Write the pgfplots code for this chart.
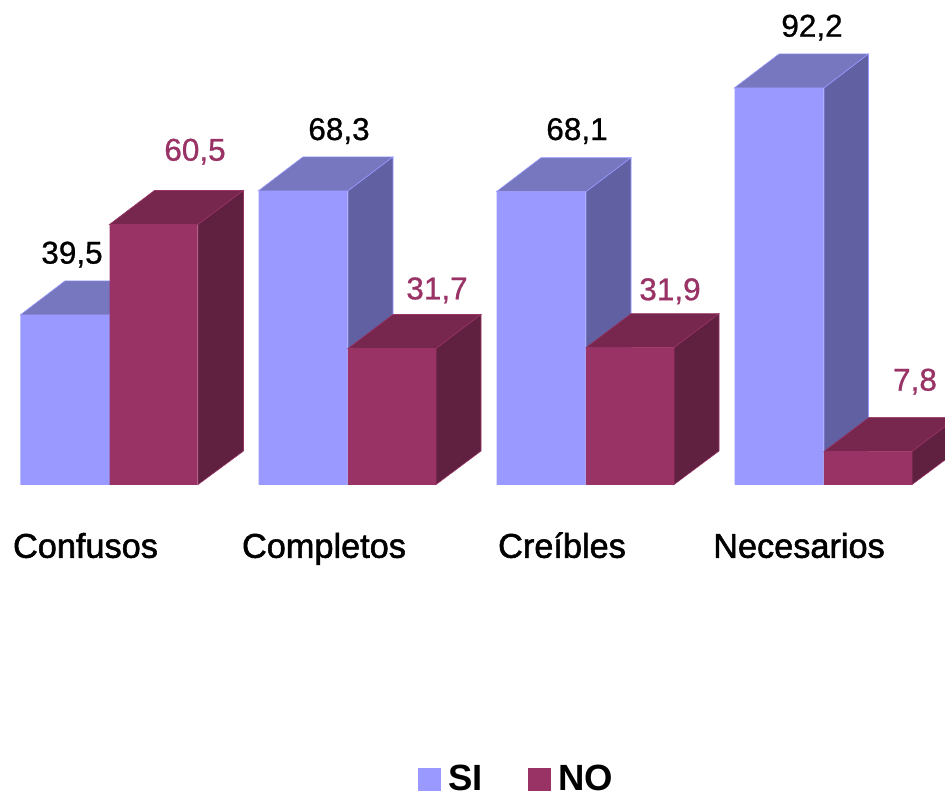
\documentclass[border=0pt]{standalone}
\usepackage{pgfplots}
\pgfplotsset{compat=1.18}
\usepackage{fontspec}
\setmainfont{Liberation Sans}
\newfontfamily\catfont[FakeBold=1.6]{Liberation Sans}
\newfontfamily\valfont[FakeBold=0.8]{Liberation Sans}
\definecolor{siF}{HTML}{9999FF}
\definecolor{siT}{HTML}{7777BF}
\definecolor{siS}{HTML}{6060A3}
\definecolor{noF}{HTML}{993366}
\definecolor{noT}{HTML}{77264D}
\definecolor{noS}{HTML}{60203F}
\newcommand{\val}[4]{\node[text=#4,font=\valfont\fontsize{31.5}{31.5}\selectfont] at (axis cs:#1,#2) {#3};}
\newcommand{\cat}[2]{\node[anchor=base,font=\catfont\fontsize{34.3}{34.3}\selectfont] at (axis cs:#1,-16.9) {#2};}
\begin{document}
\begin{tikzpicture}
\useasboundingbox (0,0) rectangle (945pt,795pt);
\begin{axis}[
  at={(0,0)}, anchor=south west,
  scale only axis, width=945pt, height=795pt,
  xmin=0, xmax=945, ymin=-71.99, ymax=112.63,
  hide axis,
  legend columns=2,
  legend style={at={(axis cs:418,-71.9)},anchor=south west,draw=none,fill=none,
    font=\bfseries\fontsize{36.5}{36.5}\selectfont,
    inner sep=0pt,
    /tikz/every even column/.append style={column sep=43pt}},
  legend cell align=left,
  every axis plot/.append style={forget plot},
]
% SI: top and side faces
\addplot[fill=siT,draw=siF,line width=0.6pt] coordinates {(20.3,39.5)(65,47.4)(154.5,47.4)(109.5,39.5)} --cycle;
\addplot[fill=siT,draw=siF,line width=0.6pt] coordinates {(258.3,68.3)(303,76.2)(393,76.2)(348,68.3)} --cycle;
\addplot[fill=siT,draw=siF,line width=0.6pt] coordinates {(496.3,68.1)(541,76.0)(631,76.0)(586,68.1)} --cycle;
\addplot[fill=siT,draw=siF,line width=0.6pt] coordinates {(734.3,92.2)(779,100.1)(868.5,100.1)(824,92.2)} --cycle;
\addplot[fill=siS,draw=siF,line width=0.6pt] coordinates {(109.5,0.1)(154.5,7.9)(154.5,47.4)(109.5,39.5)} --cycle;
\addplot[fill=siS,draw=siF,line width=0.6pt] coordinates {(348,0.1)(393,7.9)(393,76.2)(348,68.3)} --cycle;
\addplot[fill=siS,draw=siF,line width=0.6pt] coordinates {(586,0.1)(631,7.9)(631,76.0)(586,68.1)} --cycle;
\addplot[fill=siS,draw=siF,line width=0.6pt] coordinates {(824,0.1)(868.5,7.9)(868.5,100.1)(824,92.2)} --cycle;
% SI: fronts
\addplot[ybar,bar width=89.2pt,bar shift=0pt,fill=siF,draw=none] coordinates {(64.9,39.5)(303.1,68.3)(541.1,68.1)(779.1,92.2)};
% NO: top and side faces
\addplot[fill=noT,draw=noF,line width=0.6pt] coordinates {(109.5,60.5)(154.5,68.4)(243.5,68.4)(198,60.5)} --cycle;
\addplot[fill=noT,draw=noF,line width=0.6pt] coordinates {(348,31.7)(393,39.6)(481,39.6)(436,31.7)} --cycle;
\addplot[fill=noT,draw=noF,line width=0.6pt] coordinates {(586,31.9)(631,39.8)(719,39.8)(674,31.9)} --cycle;
\addplot[fill=noT,draw=noF,line width=0.6pt] coordinates {(824,7.8)(869,15.7)(957,15.7)(912,7.8)} --cycle;
\addplot[fill=noS,draw=noF,line width=0.6pt] coordinates {(198,0.1)(243.5,7.9)(243.5,68.4)(198,60.5)} --cycle;
\addplot[fill=noS,draw=noF,line width=0.6pt] coordinates {(436,0.1)(481,7.9)(481,39.6)(436,31.7)} --cycle;
\addplot[fill=noS,draw=noF,line width=0.6pt] coordinates {(674,0.1)(719,7.9)(719,39.8)(674,31.9)} --cycle;
\addplot[fill=noS,draw=noF,line width=0.6pt] coordinates {(912,0.1)(957,7.9)(957,15.7)(912,7.8)} --cycle;
% NO: fronts
\addplot[ybar,bar width=88.2pt,bar shift=0pt,fill=noF,draw=none] coordinates {(153.6,60.5)(392,31.7)(630,31.9)(868,7.8)};
% value labels
\val{72}{53.5}{39,5}{black}
\val{195}{77.4}{60,5}{noF}
\val{339}{82.2}{68,3}{black}
\val{437}{45.2}{31,7}{noF}
\val{577}{82.2}{68,1}{black}
\val{670}{45.0}{31,9}{noF}
\val{812}{106.2}{92,2}{black}
\val{915}{24.0}{7,8}{noF}
% categories
\cat{85.5}{Confusos}
\cat{324}{Completos}
\cat{562}{Creíbles}
\cat{799}{Necesarios}
% legend
\addlegendimage{legend image code/.code={\fill[siF] (0pt,-11pt) rectangle (22pt,11pt);\path[draw=none] (0pt,0pt) -- (28pt,0pt);}}
\addlegendentry{SI}
\addlegendimage{legend image code/.code={\fill[noF] (0pt,-11pt) rectangle (22pt,11pt);\path[draw=none] (0pt,0pt) -- (28pt,0pt);}}
\addlegendentry{NO}
\end{axis}
\end{tikzpicture}
\end{document}
